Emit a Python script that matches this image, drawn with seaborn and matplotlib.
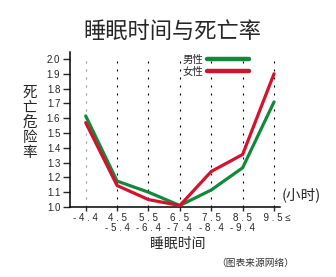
import matplotlib
matplotlib.use("Agg")
import matplotlib.pyplot as plt
from matplotlib.lines import Line2D
import seaborn as sns
import pandas as pd

# ---- data ----
categories = ["-4.4", "4.5\n-5.4", "5.5\n-6.4", "6.5\n-7.4", "7.5\n-8.4", "8.5\n-9.4", "9.5≤"]
tick_labels = ["- 4 . 4", "4 . 5\n- 5 . 4", "5 . 5\n- 6 . 4", "6 . 5\n- 7 . 4",
               "7 . 5\n- 8 . 4", "8 . 5\n- 9 . 4", "  9 . 5 ≤"]
male = [1.615, 1.175, 1.10, 1.01, 1.115, 1.265, 1.71]
female = [1.57, 1.145, 1.05, 1.01, 1.24, 1.355, 1.90]
series_names = ["男性", "女性"]
colors = {"男性": "#12893a", "女性": "#d3122e"}
yticks = [1.0, 1.1, 1.2, 1.3, 1.4, 1.5, 1.6, 1.7, 1.8, 1.9, 2.0]

title = "睡眠时间与死亡率"
ylabel = "死亡危险率"
xlabel = "睡眠时间"
unit = "(小时)"
source = "（图表来源网络）"

sns.set_style("ticks")
plt.rcParams['font.family'] = ['Liberation Sans', 'Noto Sans CJK SC', 'DejaVu Sans']
cjk = ['Noto Sans CJK SC', 'DejaVu Sans']

idx = list(range(len(categories)))
df = pd.DataFrame({
    "x": idx * 2,
    "y": male + female,
    "sex": [series_names[0]] * len(idx) + [series_names[1]] * len(idx),
})

fig = plt.figure(figsize=(3.36, 2.77), dpi=100)
ax = fig.add_axes([70 / 336, 1 - 207 / 277, 210 / 336, 155 / 277])

# dashed guide lines
for i in idx:
    ax.vlines(i, 1.0, 2.027, colors="#999999" if i == 0 else "black",
              linewidth=0.8, linestyles=(0, (1.8, 5.4)), zorder=1)

sns.lineplot(data=df, x="x", y="y", hue="sex", palette=colors, sort=False,
             linewidth=2.3, legend=False, ax=ax, zorder=3)

ax.set_xlim(-0.5, 6.19)
ax.set_ylim(1.0, 2.047)
ax.set_xticks(idx)
ax.set_xticklabels(tick_labels, fontsize=7, linespacing=1.0)
ax.set_yticks(yticks)
ax.set_yticklabels([f"{v:.1f}" for v in yticks], fontsize=7)
ax.tick_params(axis="y", length=5, width=1, direction="out", pad=2)
ax.tick_params(axis="x", length=3, width=1, direction="out", pad=1)
ax.set_xlabel("")
ax.set_ylabel("")
for s in ["top", "right"]:
    ax.spines[s].set_visible(False)
for s in ["left", "bottom"]:
    ax.spines[s].set_linewidth(1.1)
    ax.spines[s].set_color("black")
ax.grid(False)

handles = [Line2D([], [], color=colors[n], linewidth=3.2) for n in series_names]
fig.legend(handles, series_names, loc="upper left",
           bbox_to_anchor=(183 / 336, 1 - 55 / 277), frameon=False,
           markerfirst=False, handlelength=4.0, handletextpad=0.3,
           labelspacing=0.15, borderpad=0, borderaxespad=0,
           prop={"family": cjk, "size": 7.5})

fig.text(172 / 336, 1 - 31 / 277, title, ha="center", va="center",
         fontsize=16, family=cjk)
fig.text(30 / 336, 1 - 123 / 277, "\n".join(ylabel), ha="center", va="center",
         fontsize=10.5, family=cjk, linespacing=1.1)
fig.text(178 / 336, 1 - 244 / 277, xlabel, ha="center", va="center",
         fontsize=10, family=cjk)
fig.text(301 / 336, 1 - 195 / 277, unit, ha="center", va="center",
         fontsize=10.5, family=cjk)
fig.text(255 / 336, 1 - 263 / 277, source, ha="center", va="center",
         fontsize=7, family=cjk, color="#333333")

fig.savefig("out.png", dpi=100)
